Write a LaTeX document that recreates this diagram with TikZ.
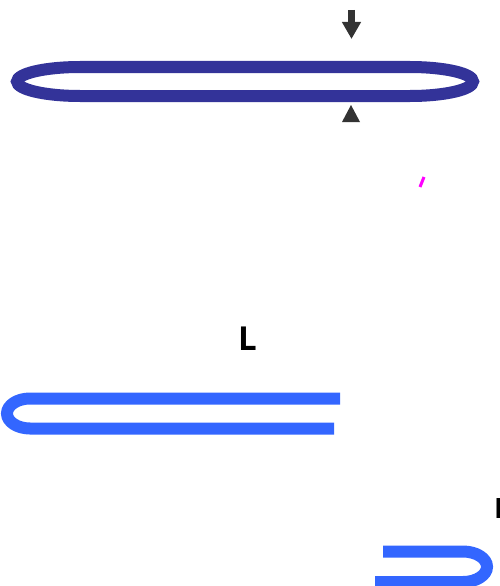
\documentclass[tikz,border=0pt]{standalone}
\usepackage{fontspec}
\setmainfont{Open Sans}
\usepackage{xcolor}
\usetikzlibrary{arrows.meta}
\definecolor{loopblue}{HTML}{333399}
\definecolor{clipblue}{HTML}{3366FF}
\definecolor{arrgray}{HTML}{333333}
\definecolor{pinkmark}{HTML}{FF00FF}

\begin{document}
\begin{tikzpicture}[x=1pt, y=-1pt,
    band/.style={line width=12pt, line cap=butt},
    loopband/.style={band, draw=loopblue},
    clipband/.style={band, draw=clipblue},
    lbl/.style={inner sep=0pt, anchor=south west, font=\bfseries\fontsize{33}{33}\selectfont}]

  \useasboundingbox (0,0) rectangle (500,586);

  % Closed loop (top)
  \def\rx{63}
  \def\ry{14.5}
  \draw[loopband] (80,67) -- (410,67)
    arc[start angle=-90, end angle=90, x radius=\rx, y radius=\ry]
    -- (80,96)
    arc[start angle=90, end angle=270, x radius=\rx, y radius=\ry] -- cycle;

  % Pinch arrows
  \coordinate (pin top) at (351.5,10);
  \coordinate (pin tip) at (351.5,39);
  \draw[arrgray, line width=7pt, -{Triangle[length=17pt, width=18pt]}]
    (pin top) -- (pin tip);
  \fill[arrgray] (342,122) -- (360,122) -- (351,105) -- cycle;

  % Small mark
  \draw[pinkmark, line width=3pt] (420,187) -- (424,177);

  % Open clip, left
  \node[lbl] (len a) at (238,351) {L};
  \draw[clipband] (340,398.5) -- (30,398.5)
    arc[start angle=270, end angle=90, x radius=23, y radius=15]
    -- (334,428.5);

  % Open clip, right (cut off by the frame)
  \node[lbl, font=\bfseries\fontsize{28}{28}\selectfont] (len b) at (494,519) {L};
  \draw[clipband] (383,551.5) -- (463,551.5)
    arc[start angle=-90, end angle=90, x radius=24, y radius=15.25]
    -- (375,582);

\end{tikzpicture}
\end{document}
